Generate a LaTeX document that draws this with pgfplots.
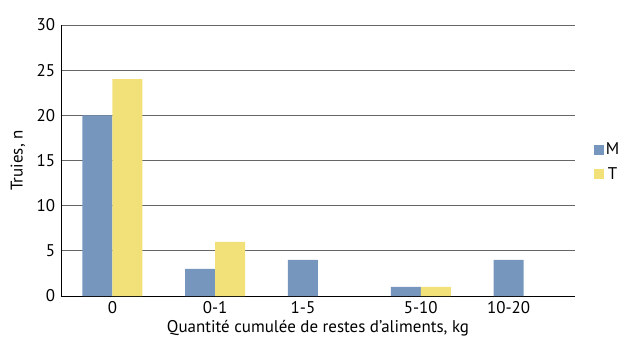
\documentclass[border=0pt]{standalone}
\usepackage{pgfplots}
\pgfplotsset{compat=1.18}
\usepackage{fontspec}
\setmainfont{PT Sans}
\definecolor{cM}{RGB}{118,150,190}
\definecolor{cT}{RGB}{242,224,120}
\begin{document}
\fontsize{17}{19}\selectfont
\begin{tikzpicture}
\begin{axis}[
  name=ax,
  scale only axis,
  width=514bp, height=271bp,
  xmin=-0.5, xmax=4.5,
  ymin=0, ymax=30,
  ytick={0,5,...,30},
  xtick={0,1,1.854,3,3.854},
  xticklabels={0,0-1,1-5,5-10,10-20},
  major tick length=0pt,
  ymajorgrids,
  grid style={gray!80!black, line width=0.8pt},
  axis x line*=bottom,
  axis y line*=left,
  axis line style={black, line width=0.8pt},
  /pgf/number format/assume math mode=true,
  tick label style={font=\fontsize{17}{19}\selectfont},
  label style={font=\fontsize{17}{19}\selectfont},
  xlabel={Quantité cumulée de restes d’aliments, kg},
  ylabel={Truies, n},
  ylabel style={yshift=0bp},
  xlabel style={yshift=5bp},
  ybar, bar width=30bp,
  legend style={draw=none, fill=none, at={(1.03,0.58)}, anchor=north west,
    font=\fontsize{17}{19}\selectfont, row sep=6bp},
  legend image code/.code={\fill[#1, draw=none] (0cm,-0.17cm) rectangle (0.36cm,0.19cm);},
  clip=false,
]
\addplot[fill=cM, draw=none, bar shift=-15bp] coordinates {(0,20) (1,3) (2,4) (3,1) (4,4)};
\addplot[fill=cT, draw=none, bar shift=15bp] coordinates {(0,24) (1,6) (3,1)};
\legend{M,T}
\end{axis}
\path ([xshift=-61bp,yshift=-53bp]ax.south west) rectangle ([xshift=60bp,yshift=25bp]ax.north east);
\end{tikzpicture}
\end{document}
